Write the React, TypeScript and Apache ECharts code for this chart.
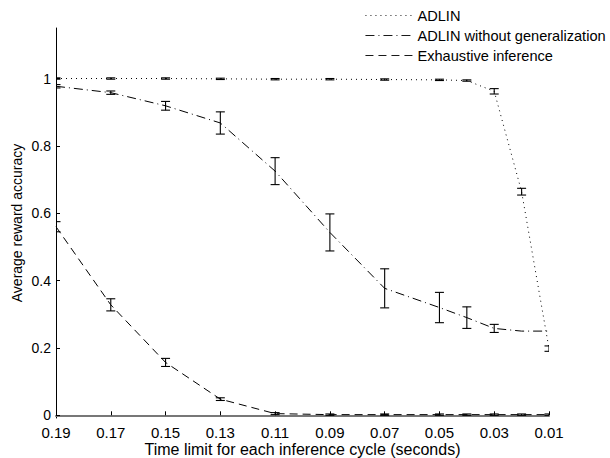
import React, { useEffect, useRef } from "react";
import * as echarts from "echarts";

const xValues = [0.19, 0.17, 0.15, 0.13, 0.11, 0.09, 0.07, 0.05, 0.04, 0.03, 0.02, 0.01];
const xTicks = [0.19, 0.17, 0.15, 0.13, 0.11, 0.09, 0.07, 0.05, 0.03, 0.01];
const yTicks = [0, 0.2, 0.4, 0.6, 0.8, 1];

const adlin = [1.0, 1.0, 1.0, 0.999, 0.998, 0.998, 0.997, 0.996, 0.994, 0.962, 0.664, 0.198];
const adlinErr = [0.002, 0.002, 0.002, 0.002, 0.002, 0.002, 0.002, 0.002, 0.002, 0.008, 0.01, 0.008];

const noGen = [0.977, 0.958, 0.919, 0.868, 0.725, 0.543, 0.377, 0.32, 0.29, 0.258, 0.25, 0.25];
const noGenErr = [0.005, 0.005, 0.013, 0.033, 0.04, 0.055, 0.058, 0.045, 0.032, 0.012, 0, 0];

const exhaustive = [0.56, 0.328, 0.157, 0.048, 0.005, 0.002, 0.002, 0.002, 0.002, 0.002, 0.002, 0.002];
const exhaustiveErr = [0.015, 0.018, 0.012, 0.004, 0.003, 0.002, 0.002, 0.002, 0.002, 0.002, 0.002, 0.002];

const seriesNames = ["ADLIN", "ADLIN without generalization", "Exhaustive inference"];
const FONT = "Liberation Sans, Arial, Helvetica, sans-serif";

function lineData(vals: number[]) {
  return xValues.map((x, i) => [x, vals[i]]);
}
function errData(vals: number[], errs: number[]) {
  return xValues
    .map((x, i) => [x, vals[i] - errs[i], vals[i] + errs[i], errs[i]])
    .filter((d) => d[3] > 0)
    .map((d) => [d[0], d[1], d[2]]);
}

const errRender = (params: any, api: any) => {
  const x = api.value(0);
  const lo = api.value(1);
  const hi = api.value(2);
  const top = api.coord([x, hi]);
  const bot = api.coord([x, lo]);
  const w = 4.5;
  const style = { stroke: "#000", lineWidth: 1.1 };
  return {
    type: "group",
    children: [
      { type: "line", shape: { x1: top[0], y1: top[1], x2: bot[0], y2: bot[1] }, style },
      { type: "line", shape: { x1: top[0] - w, y1: top[1], x2: top[0] + w, y2: top[1] }, style },
      { type: "line", shape: { x1: bot[0] - w, y1: bot[1], x2: bot[0] + w, y2: bot[1] }, style },
    ],
  };
};

export default function App() {
  const ref = useRef<HTMLDivElement>(null);
  useEffect(() => {
    if (!ref.current) return;
    const chart = echarts.init(ref.current, null, { renderer: "svg" });
    const dashTypes: any[] = [[1, 4], [9, 4, 1, 4], [8, 5]];
    const vals = [adlin, noGen, exhaustive];
    const errs = [adlinErr, noGenErr, exhaustiveErr];
    const series: any[] = [];
    seriesNames.forEach((name, i) => {
      series.push({
        name,
        type: "line",
        data: lineData(vals[i]),
        showSymbol: false,
        symbol: "none",
        lineStyle: { color: "#000", width: 1, type: dashTypes[i] },
        itemStyle: { color: "#000" },
      });
      series.push({
        name: name + " err",
        type: "custom",
        renderItem: errRender,
        data: errData(vals[i], errs[i]),
        encode: { x: 0, y: [1, 2] },
        clip: true,
      });
    });
    chart.setOption({
      animation: false,
      grid: { left: 56, right: 61, top: 28, bottom: 40, containLabel: false, outerBoundsMode: "none" },
      legend: {
        data: seriesNames,
        orient: "vertical",
        left: 360,
        top: 3,
        itemWidth: 47,
        itemHeight: 14,
        itemGap: 5,
        itemStyle: { color: "rgba(0,0,0,0)", borderWidth: 0, opacity: 0 },
        lineStyle: { width: 0.9 },
        textStyle: { fontFamily: FONT, fontSize: 14.6, color: "#000" },
      },
      xAxis: {
        type: "value",
        inverse: true,
        min: 0.01,
        max: 0.19,
        name: "Time limit for each inference cycle (seconds)",
        nameLocation: "middle",
        nameGap: 23,
        nameMoveOverlap: false,
        nameTextStyle: { fontFamily: FONT, fontSize: 16, lineHeight: 16, color: "#000" },
        axisLine: { show: true, lineStyle: { color: "#777", width: 2 } },
        axisTick: { show: true, inside: true, length: 4, customValues: xTicks, lineStyle: { color: "#000" } },
        axisLabel: {
          customValues: xTicks,
          margin: 8,
          lineHeight: 12,
          fontFamily: FONT,
          fontSize: 15,
          color: "#000",
          formatter: (v: number) => v.toFixed(2),
        },
        splitLine: { show: false },
      },
      yAxis: {
        type: "value",
        min: -0.008,
        max: 1.15,
        name: "Average reward accuracy",
        nameLocation: "middle",
        nameGap: 32,
        nameMoveOverlap: false,
        nameTextStyle: { fontFamily: FONT, fontSize: 14, color: "#000" },
        axisLine: { show: true, lineStyle: { color: "#000", width: 1 } },
        axisTick: { show: true, inside: true, length: 4, customValues: yTicks, lineStyle: { color: "#000" } },
        axisLabel: {
          customValues: yTicks,
          margin: 5,
          lineHeight: 12,
          fontFamily: FONT,
          fontSize: 14,
          color: "#000",
          formatter: (v: number) => String(Math.round(v * 10) / 10),
        },
        splitLine: { show: false },
      },
      series,
    });
    return () => chart.dispose();
  }, []);
  return (
    <div
      ref={ref}
      style={{ position: "fixed", left: 0, top: 0, width: 610, height: 458, background: "#fff" }}
    />
  );
}
